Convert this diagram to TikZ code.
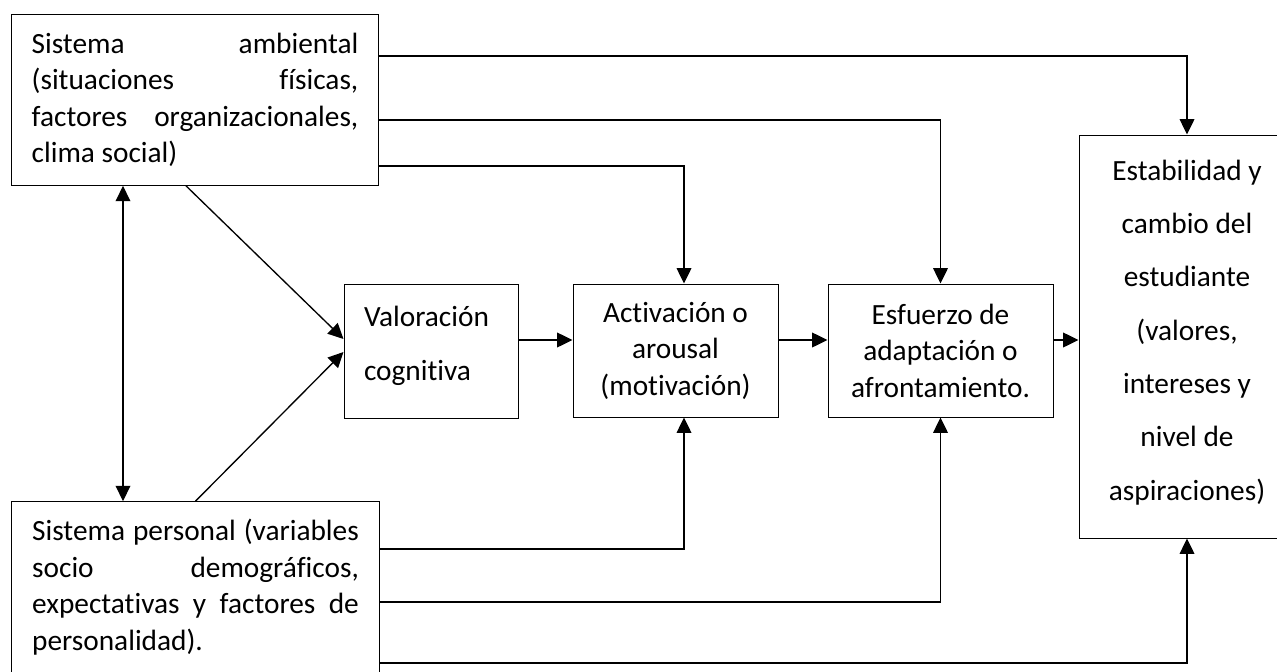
\documentclass[tikz,border=0pt]{standalone}
\usepackage{fontspec}
\setmainfont[Ligatures=NoCommon]{Carlito}
\usetikzlibrary{arrows.meta}

\tikzset{every picture/.style={line width=0.75pt}}
\tikzset{
  caja/.style={draw, line width=0.75pt, inner sep=0pt, font=\fontsize{22}{27.4}\selectfont},
  cajalarga/.style={caja, text width=245pt, inner xsep=15.2pt, align=justify, minimum height=128pt},
  cajamedia/.style={caja, align=center, minimum height=99.75pt},
  flecha/.style={line width=1pt, -{Triangle[length=11.5pt,width=11pt]}},
  dobleflecha/.style={line width=1pt, {Triangle[length=11.5pt,width=11pt]}-{Triangle[length=11.5pt,width=11pt]}}
}

\begin{document}
\begin{tikzpicture}[x=0.75pt,y=0.75pt,yscale=-1,xscale=1]
\useasboundingbox (0,0) rectangle (1277,671);
\clip (0,0) rectangle (1277,671);
\fill[white] (0,0) rectangle (1277,671);

% Cajas
\node[cajalarga] (amb) at (195,100) {Sistema ambiental\linebreak (situaciones físicas,\linebreak factores organizacionales,\linebreak clima social)};
\node[cajalarga] (pers) at (195.5,587) {Sistema personal (variables\linebreak socio demográficos,\linebreak expectativas y factores de\linebreak personalidad).};
\node[caja, minimum width=130.5pt, minimum height=100.5pt, text width=100.5pt, align=left, font=\fontsize{22}{40}\selectfont] (valor) at (431,351) {Valoración\\cognitiva\vspace*{8pt}};
\node[cajamedia, minimum width=153.75pt] (activ) at (675.5,350.5) {Activación o\\arousal\\(motivación)};
\node[cajamedia, minimum width=168.75pt] (esfuer) at (940.5,350.5) {Esfuerzo de\\adaptación o\\afrontamiento.};
\node[caja, minimum width=162pt, minimum height=302.25pt, align=center, font=\fontsize{22}{40}\selectfont] (estab) at (1187,336.5) {Estabilidad y\\cambio del\\estudiante\\(valores,\\intereses y\\nivel de\\aspiraciones)\vspace*{6pt}};

% Flechas desde el sistema ambiental
\draw[flecha] (amb.east |- 0,56) -| (estab.north);
\draw[flecha] (amb.east |- 0,120) -| (esfuer.north);
\draw[flecha] (amb.east |- 0,166) -| (684,0 |- activ.north);
\draw[flecha] (186,0 |- amb.south) -- (valor.west |- 0,339);
\draw[dobleflecha] (123,0 |- amb.south) -- (123,0 |- pers.north);

% Flechas desde el sistema personal
\draw[flecha] (pers.north) -- (valor.west |- 0,352);
\draw[flecha] (pers.east |- 0,549) -| (684,0 |- activ.south);
\draw[flecha] (pers.east |- 0,602) -| (esfuer.south);
\draw[flecha] (pers.east |- 0,663) -| (estab.south);

% Secuencia central
\draw[flecha] (valor.east |- 0,340) -- (activ.west |- 0,340);
\draw[flecha] (activ.east |- 0,340) -- (esfuer.west |- 0,340);
\draw[flecha] (esfuer.east |- 0,340) -- (estab.west |- 0,340);

\end{tikzpicture}
\end{document}
